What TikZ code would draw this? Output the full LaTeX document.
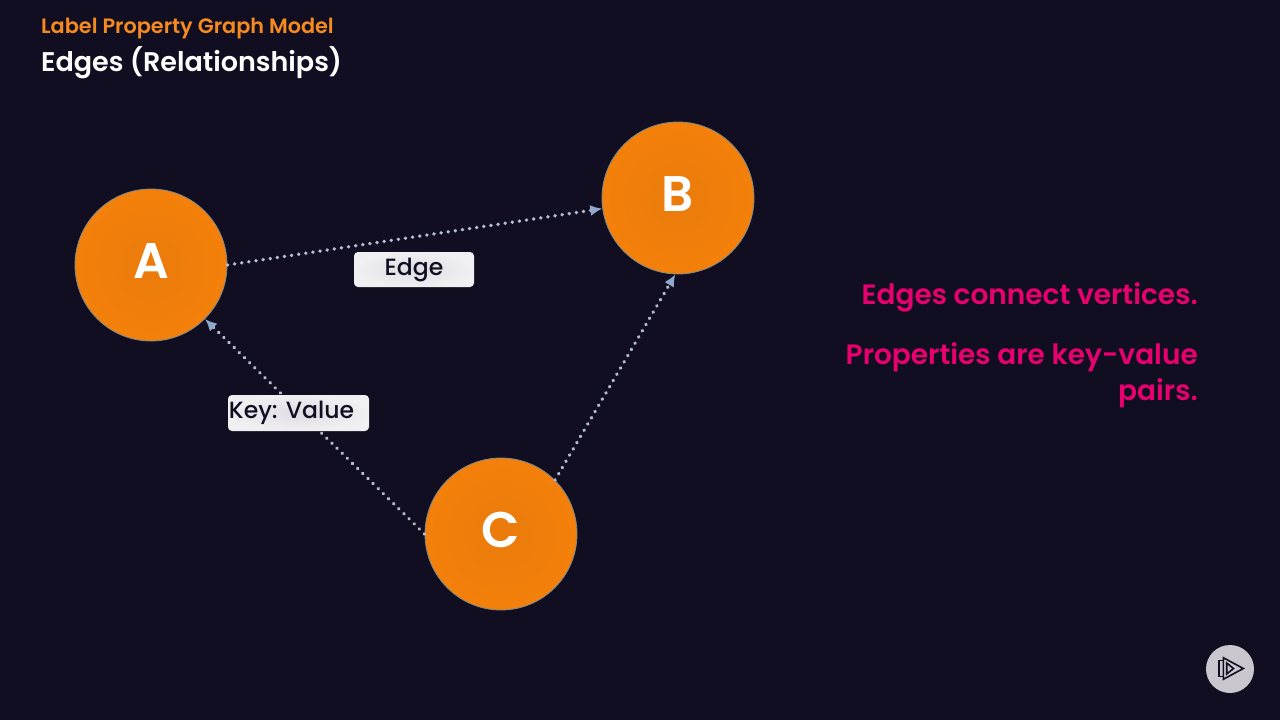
\documentclass[tikz,border=0pt]{standalone}
\usepackage{fontspec}
\usepackage{xcolor}
\setmainfont{Poppins Medium}[BoldFont=Poppins SemiBold]
\usetikzlibrary{arrows.meta, positioning}
\definecolor{bgdark}{HTML}{120E22}
\definecolor{vertexorange}{HTML}{F3800A}
\definecolor{vertexcore}{HTML}{EA7B0B}
\definecolor{vertexrim}{HTML}{7F8C8C}
\definecolor{edgedot}{HTML}{B4BDD3}
\definecolor{edgetip}{HTML}{8FA8CC}
\definecolor{notepink}{HTML}{E8006F}
\definecolor{kickerorange}{HTML}{F58A1F}
\definecolor{tagfill}{HTML}{F0EFF2}
\definecolor{tagcore}{HTML}{DFDDE2}
\definecolor{logofill}{HTML}{C9C7CD}

\begin{document}
\begin{tikzpicture}[
        x=1pt, y=-1pt,
        vertex/.style={circle, draw=vertexrim, line width=0.8pt, inner color=vertexcore, outer color=vertexorange, minimum size=152pt, inner sep=0pt, text=white, text height=35pt, text depth=9pt, font=\fontsize{50}{50}\selectfont\bfseries},
        tag/.style={rectangle, inner color=tagcore, outer color=tagfill, rounded corners=4pt, minimum height=35pt, inner sep=0pt, text=bgdark, font=\fontsize{23.5}{23.5}\selectfont},
        line/.style={draw=edgedot, line width=3.6pt, line cap=round, dash pattern=on 0.2pt off 7pt, -{Latex[length=12pt, width=11pt, color=edgetip]}},
        note/.style={anchor=east, align=right, inner sep=0pt, text=notepink, font=\fontsize{28}{36}\selectfont\bfseries},
        logoline/.style={draw=bgdark, line width=1.6pt, line join=miter}
    ]
        \useasboundingbox (0,0) rectangle (1280,720);
        \fill [bgdark] (0,0) rectangle (1280,720);

        % heading
        \node [anchor=west, inner sep=0pt, text=kickerorange, font=\fontsize{20.8}{20.8}\selectfont\bfseries] (kicker) at (41,29) {Label Property Graph Model};
        \node [anchor=west, inner sep=0pt, text=white, font=\fontsize{27}{27}\selectfont\bfseries] (heading) at (41,63) {Edges (Relationships)};

        % vertices
        \node [vertex] (a) at (151,265) {A};
        \node [vertex] (b) at (678,198) {B};
        \node [vertex] (c) at (501,534) {C};

        % edges
        \path [line] (a.0) -- (b.188);
        \path [line] (c.180) -- (a.-45);
        \path [line] (c.45) -- (b.-92);

        % labels
        \node [tag, minimum width=120pt] (edgetag) at (414,269.5) {Edge};
        \node [tag, minimum width=141pt, minimum height=36pt] (keytag) at (298.5,413) {\hspace{-14pt}Key: Value};

        % notes
        \node [note] (noteedges) at (1198,297) {Edges connect vertices.};
        \node [note] (noteprops) at (1198,375) {Properties are key-value\\pairs.};

        % logo
        \node [circle, fill=logofill, minimum size=48pt, inner sep=0pt] (logo) at (1230,669) {};
        \draw [logoline] (1223.3,657.7) -- (1243.3,668.5) -- (1223.3,679.3) -- cycle;
        \draw [logoline] (1226.7,663) -- (1233.5,668.5) -- (1226.7,674) -- cycle;
        \draw [logoline] (1223.3,660.5) -- (1219,660.5) -- (1219,676.5) -- (1223.3,676.5);
    \end{tikzpicture}
\end{document}
